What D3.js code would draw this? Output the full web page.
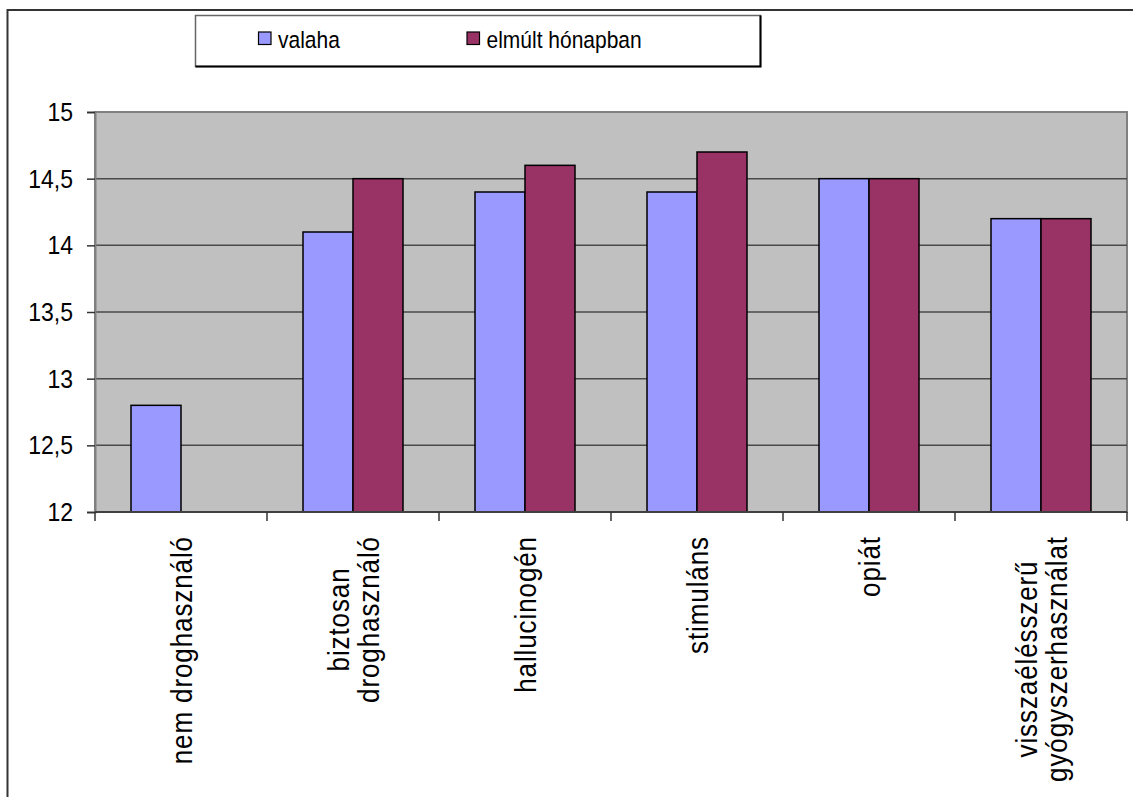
<!DOCTYPE html>
<html>
<head>
<meta charset="utf-8">
<script src="https://cdn.jsdelivr.net/npm/d3@7"></script>
<style>
  html, body { margin: 0; padding: 0; background: #ffffff; }
  svg { display: block; font-family: "Liberation Sans", Arial, sans-serif; }
</style>
</head>
<body>
<svg id="chart" width="1133" height="797"></svg>
<script>
const categories = [
  ["nem  droghasználó"],
  ["biztosan", "droghasználó"],
  ["hallucinogén"],
  ["stimuláns"],
  ["opiát"],
  ["visszaélésszerű", "gyógyszerhasználat"]
];
const seriesNames = ["valaha", "elmúlt hónapban"];
const valaha = [12.8, 14.1, 14.4, 14.4, 14.5, 14.2];
const elmult = [null, 14.5, 14.6, 14.7, 14.5, 14.2];
const yTicks = [12, 12.5, 13, 13.5, 14, 14.5, 15];
const colors = ["#9999ff", "#993366"];

const svg = d3.select("#chart");
const plot = { left: 95, right: 1127, top: 112, bottom: 512 };

// outer frame
svg.append("rect").attr("x", 7.5).attr("y", 10).attr("width", 1300).attr("height", 1000)
  .attr("fill", "#fff").attr("stroke", "#333").attr("stroke-width", 2);

const catKeys = categories.map((c, i) => "c" + i);
const x = d3.scaleBand().domain(catKeys).range([plot.left, plot.right]).paddingInner(0).paddingOuter(0);
const inner = d3.scaleBand().domain(seriesNames).range([0, x.bandwidth()]).paddingInner(0).paddingOuter(0.72);
const y = d3.scaleLinear().domain([12, 15]).range([plot.bottom, plot.top]);

// plot area
svg.append("rect").attr("x", plot.left).attr("y", plot.top)
  .attr("width", plot.right - plot.left).attr("height", plot.bottom - plot.top)
  .attr("fill", "#c0c0c0").attr("stroke", "#808080").attr("stroke-width", 2);

// gridlines
svg.append("g").selectAll("line").data(yTicks.filter(t => t > 12 && t < 15)).join("line")
  .attr("x1", plot.left).attr("x2", plot.right)
  .attr("y1", d => y(d)).attr("y2", d => y(d))
  .attr("stroke", "#4a4a4a").attr("stroke-width", 1.5);

// bars
const data = [];
categories.forEach((c, i) => {
  [valaha, elmult].forEach((arr, s) => {
    if (arr[i] != null) data.push({ cat: catKeys[i], s: seriesNames[s], v: arr[i], color: colors[s] });
  });
});
svg.append("g").selectAll("rect").data(data).join("rect")
  .attr("x", d => x(d.cat) + inner(d.s))
  .attr("width", inner.bandwidth())
  .attr("y", d => y(d.v))
  .attr("height", d => y(12) - y(d.v))
  .attr("fill", d => d.color)
  .attr("stroke", "#000").attr("stroke-width", 1.5);

// y axis
const yAxis = d3.axisLeft(y).tickValues(yTicks).tickSize(8).tickPadding(14)
  .tickFormat(d => String(d).replace(".", ","));
const gy = svg.append("g").attr("transform", `translate(${plot.left},0)`).call(yAxis);
gy.select(".domain").attr("stroke", "#808080").attr("stroke-width", 2);
gy.selectAll(".tick line").attr("stroke", "#333").attr("stroke-width", 1.5);
gy.selectAll(".tick text").attr("font-size", 23).attr("fill", "#000")
  .attr("font-family", "Liberation Sans, Arial, sans-serif")
  .attr("transform", "scale(1,1.15)");

// x axis line and ticks at band boundaries
const bounds = catKeys.map(k => x(k)).concat([plot.right]);
svg.append("line").attr("x1", plot.left).attr("x2", plot.right)
  .attr("y1", plot.bottom).attr("y2", plot.bottom)
  .attr("stroke", "#404040").attr("stroke-width", 2);
svg.append("g").selectAll("line").data(bounds).join("line")
  .attr("x1", d => d).attr("x2", d => d)
  .attr("y1", plot.bottom).attr("y2", plot.bottom + 9)
  .attr("stroke", "#333").attr("stroke-width", 1.5);

// category labels (rotated)
const labelTop = 536, lineH = 30, fs = 26, ls = 0.9;
const lg = svg.append("g");
categories.forEach((lines, i) => {
  const cx = x(catKeys[i]) + x.bandwidth() / 2;
  let maxLen = 0;
  const tmp = lg.append("text").attr("font-size", fs).attr("letter-spacing", ls);
  lines.forEach(l => { tmp.text(l); maxLen = Math.max(maxLen, tmp.node().getComputedTextLength()); });
  tmp.remove();
  const centerY = labelTop + maxLen / 2;
  lines.forEach((l, j) => {
    const off = (j - (lines.length - 1) / 2) * lineH;
    lg.append("text")
      .attr("transform", `translate(${cx + off + 2},${centerY}) rotate(-90) scale(1,1.12)`)
      .attr("text-anchor", "middle")
      .attr("dy", "0.32em")
      .attr("font-size", fs)
      .attr("letter-spacing", ls)
      .attr("fill", "#000")
      .text(l);
  });
});

// legend
const leg = svg.append("g");
leg.append("rect").attr("x", 195.5).attr("y", 15.5).attr("width", 565).attr("height", 51)
  .attr("fill", "#fff").attr("stroke", "#666").attr("stroke-width", 1.5);
leg.append("path").attr("d", "M760.5,15.5 V66.5 H195.5").attr("fill", "none")
  .attr("stroke", "#000").attr("stroke-width", 2);
const legX = [258.5, 467];
seriesNames.forEach((n, i) => {
  leg.append("rect").attr("x", legX[i]).attr("y", 32).attr("width", 12.5).attr("height", 12.5)
    .attr("fill", colors[i]).attr("stroke", "#000").attr("stroke-width", 1.2);
  leg.append("text").attr("transform", `translate(${legX[i] + 19.5},47.5) scale(1,1.18)`)
    .attr("font-size", 21).attr("fill", "#000").text(n);
});
</script>
</body>
</html>
